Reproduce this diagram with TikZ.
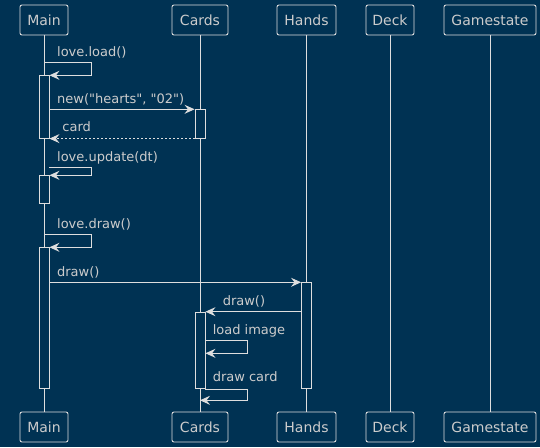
\documentclass[tikz,border=0pt]{standalone}
\usepackage{fontspec}
\setmainfont{DejaVu Sans}[Ligatures=TeXOff]
\usetikzlibrary{positioning}
\usetikzlibrary{calc}
\usetikzlibrary{arrows.meta}
\definecolor{bg}{RGB}{0,50,83}
\definecolor{ink}{RGB}{222,222,222}
\definecolor{txt}{RGB}{204,204,204}

\begin{document}
\begin{tikzpicture}[x=1pt, y=-1pt, line width=0.9pt,
    every node/.style={font=\fontsize{13}{15}\selectfont, text=txt},
    part/.style={draw=ink, rounded corners=2pt, minimum height=30pt, inner sep=0pt, font=\fontsize{14}{16}\selectfont},
    life/.style={draw=ink},
    act/.style={draw=ink, fill=bg, minimum width=10pt, inner sep=0pt, anchor=north},
    msg/.style={draw=ink, -{Stealth[length=10pt, width=9pt, inset=3.5pt]}},
    ret/.style={msg, dash pattern=on 2pt off 2pt},
    lbl/.style={anchor=base west, inner sep=0pt}]
    \fill[bg] (0,0) rectangle (540,447);
    \useasboundingbox (0,0) rectangle (540,447);
    % participants and lifelines
    \foreach \n/\lab/\x/\w in {main/Main/44/48pt, cards/Cards/200/56pt, hands/Hands/306.5/59pt, deck/Deck/390/48pt, game/Gamestate/490/92pt} {
        \node[part, minimum width=\w] (\n-top) at (\x,20) {\lab};
        \node[part, minimum width=\w] (\n-bot) at (\x,427) {\lab};
        \draw[life] (\n-top) -- (\n-bot);
    }
    % activations
    \node[act, minimum height=62.4pt] (mainA1) at (main-top |- 0,75.3) {};
    \node[act, minimum height=28.4pt] (cardsA1) at (cards-top |- 0,109.3) {};
    \node[act, minimum height=28pt] (mainA2) at (main-top |- 0,175.3) {};
    \node[act, minimum height=140.7pt] (mainA3) at (main-top |- 0,247.3) {};
    \node[act, minimum height=106pt] (handsA1) at (hands-top |- 0,282.3) {};
    \node[act, minimum height=76.6pt] (cardsA2) at (cards-top |- 0,311.7) {};
    % messages
    \draw[msg] (main-top |- 0,62.3) -- ++(47,0) |- (mainA1.north east);
    \node[lbl] (m-load) at (56.7,56.5) {love.load()};
    \draw[msg] (mainA1.east |- cardsA1.north) -- (cardsA1.north west);
    \node[lbl] (m-new) at (56.7,103.3) {new("hearts", "02")};
    \draw[ret] (cardsA1.south west) -- (mainA1.south east);
    \node[lbl] (m-card) at (62,131.7) {card};
    \draw[msg] (mainA2.east |- 0,167.3) -- ++(42,0) |- (mainA2.north east);
    \node[lbl] (m-update) at (56.7,161.3) {love.update(dt)};
    \draw[msg] (main-top |- 0,234.7) -- ++(47,0) |- (mainA3.north east);
    \node[lbl] (m-ldraw) at (56.7,228.7) {love.draw()};
    \draw[msg] (mainA3.east |- handsA1.north) -- (handsA1.north west);
    \node[lbl] (m-draw1) at (56.7,276.3) {draw()};
    \draw[msg] (handsA1.west |- cardsA2.north) -- (cardsA2.north east);
    \node[lbl] (m-draw2) at (222.3,305.7) {draw()};
    \draw[msg] (cardsA2.east |- 0,340.7) -- ++(42.4,0) |- (cardsA2.east |- 0,353.3);
    \node[lbl] (m-image) at (212.3,334.7) {load image};
    \draw[msg] (cardsA2.south east) -- ++(42.4,0) |- (cards-top |- 0,400.3);
    \node[lbl] (m-dcard) at (212.3,381.3) {draw card};
\end{tikzpicture}
\end{document}
